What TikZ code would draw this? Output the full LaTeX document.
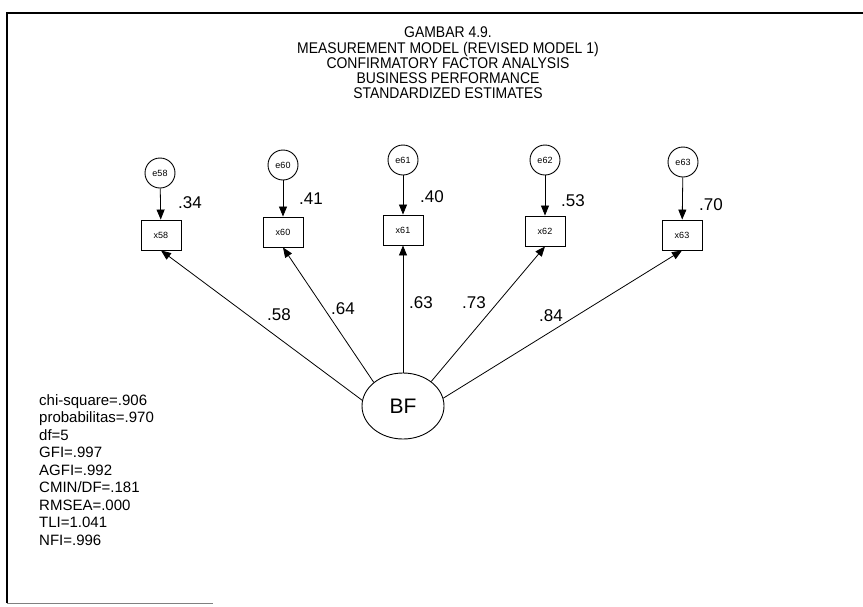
\documentclass[tikz,border=0pt]{standalone}
\usepackage{fontspec}
\setmainfont{Liberation Sans}
\newfontfamily\narrowfont[FakeStretch=0.9]{Liberation Sans}
\usetikzlibrary{arrows.meta,shapes.geometric}
\begin{document}
\begin{tikzpicture}[x=1pt,y=-1pt,
  err/.style={circle,draw,line width=0.9pt,minimum size=30pt,inner sep=0pt,font=\fontsize{9}{10}\selectfont},
  obs/.style={rectangle,draw,line width=0.9pt,minimum width=40pt,minimum height=30pt,inner sep=0pt,font=\fontsize{9}{10}\selectfont},
  lat/.style={ellipse,draw,line width=0.9pt,minimum width=82pt,minimum height=66pt,inner sep=0pt,font=\fontsize{21}{22}\selectfont},
  conn/.style={-{Triangle[length=10pt,width=8pt]},line width=0.8pt},
  lbl/.style={font=\fontsize{17}{17}\selectfont,inner sep=0pt},
  frameline/.style={line width=1.3pt}
]
\useasboundingbox (0,0) rectangle (863,606);
\fill[white] (0,0) rectangle (863,606);
% frame
\coordinate (fbl) at (7,603);
\coordinate (ftl) at (7,13);
\coordinate (ftr) at (863,13);
\coordinate (fbr) at (213,603);
\draw[frameline] (fbl) -- (ftl) -- (ftr);
\draw[gray,line width=0.9pt] (fbl) -- (fbr);
% title
\node[align=center,inner sep=0pt,font=\narrowfont\fontsize{15.5}{15.2}\selectfont] (title) at (448,63)
  {GAMBAR 4.9.\\MEASUREMENT MODEL (REVISED MODEL 1)\\CONFIRMATORY FACTOR ANALYSIS\\BUSINESS PERFORMANCE\\STANDARDIZED ESTIMATES};
% error terms
\node[err] (e58) at (160,173) {e58};
\node[err] (e60) at (283,165) {e60};
\node[err] (e61) at (403,160) {e61};
\node[err] (e62) at (545,160) {e62};
\node[err] (e63) at (683,162) {e63};
% observed
\node[obs] (x58) at (161,235) {x58};
\node[obs] (x60) at (283,232) {x60};
\node[obs] (x61) at (403,230) {x61};
\node[obs] (x62) at (545,231) {x62};
\node[obs] (x63) at (682,235) {x63};
% latent
\node[lat] (bf) at (403,406) {BF};
% error arrows
\draw[conn] (e58) -- (x58);
\draw[conn] (e60) -- (x60);
\draw[conn] (e61) -- (x61);
\draw[conn] (e62) -- (x62);
\draw[conn] (e63) -- (x63);
% loadings
\draw[conn] (bf.172) -- (x58.south);
\draw[conn] (bf.141) -- (x60.south);
\draw[conn] (bf.north) -- (x61.south);
\draw[conn] (bf.41) -- (x62.south);
\draw[conn] (bf.11) -- (x63.south);
% R2 labels
\node[lbl] (r58) at (190,203) {.34};
\node[lbl] (r60) at (311,199) {.41};
\node[lbl] (r61) at (432,197) {.40};
\node[lbl] (r62) at (573,201) {.53};
\node[lbl] (r63) at (711,205) {.70};
% loading labels
\node[lbl] (l58) at (279,315) {.58};
\node[lbl] (l60) at (343,309) {.64};
\node[lbl] (l61) at (421,303) {.63};
\node[lbl] (l62) at (474,303) {.73};
\node[lbl] (l63) at (551,316) {.84};
% fit statistics
\node[align=left,inner sep=0pt,font=\fontsize{15}{17.5}\selectfont,anchor=north west] (stats) at (39,394)
  {chi-square=.906\\probabilitas=.970\\df=5\\GFI=.997\\AGFI=.992\\CMIN/DF=.181\\RMSEA=.000\\TLI=1.041\\NFI=.996};
\end{tikzpicture}
\end{document}
